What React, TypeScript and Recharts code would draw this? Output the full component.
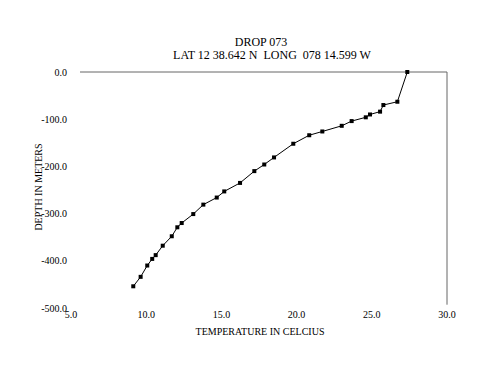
import { Line, LineChart, ReferenceLine, XAxis, YAxis } from "recharts";

// temperature (°C) vs depth (m), read top to bottom
const TEMPS = [
  27.36, 26.7, 25.77, 25.55, 24.88, 24.6, 23.66, 23.0, 21.71, 20.84, 19.78, 18.5, 17.85, 17.19,
  16.24, 15.19, 14.69, 13.8, 13.13, 12.36, 12.07, 11.7, 11.1, 10.63, 10.4, 10.07, 9.63, 9.14,
];
const DEPTHS = [
  0, -63, -70, -84, -90, -96, -104, -114, -126, -134, -152, -181, -196, -210,
  -235, -253, -266, -281, -301, -320, -329, -348, -368, -388, -396, -410, -434, -454,
];
const X_TICKS = [5, 10, 15, 20, 25, 30];
const Y_TICKS = [-500, -400, -300, -200, -100, 0];

const TITLE = "DROP 073";
const SUBTITLE = "LAT 12 38.642 N  LONG  078 14.599 W";
const X_LABEL = "TEMPERATURE IN CELCIUS";
const Y_LABEL = "DEPTH IN METERS";

const FONT = "'Liberation Serif', 'Times New Roman', serif";
const FRAME = "#666666";

const data = TEMPS.map((t, i) => ({ t, d: DEPTHS[i] }));

function SquareDot(props: any) {
  const { cx, cy } = props;
  if (cx == null || cy == null) return null;
  return <rect x={cx - 2} y={cy - 2} width={4} height={4} fill="#000" />;
}

const tickStyle = { fontFamily: FONT, fontSize: 10, fill: "#000" };

export default function App() {
  return (
    <div style={{ position: "absolute", left: 0, top: 0, width: 500, height: 386, background: "#fff", fontFamily: FONT, color: "#000" }}>
      <LineChart width={500} height={386} data={data} margin={{ top: 72, right: 53, bottom: 0, left: 0 }}>
        <XAxis
          dataKey="t"
          type="number"
          domain={[5, 30]}
          ticks={X_TICKS}
          tickFormatter={(v) => v.toFixed(1)}
          axisLine={false}
          tickLine={false}
          tickSize={0}
          tickMargin={3}
          height={78}
          tick={tickStyle}
          interval={0}
        />
        <YAxis
          dataKey="d"
          type="number"
          domain={[-500, 0]}
          ticks={Y_TICKS}
          tickFormatter={(v) => v.toFixed(1)}
          axisLine={false}
          tickLine={false}
          tickSize={0}
          tickMargin={4}
          width={71}
          tick={tickStyle}
          interval={0}
        />
        {/* plot frame: top and right edges only */}
        <ReferenceLine segment={[{ x: 5.6, y: 0 }, { x: 30, y: 0 }]} stroke={FRAME} ifOverflow="visible" />
        <ReferenceLine segment={[{ x: 30, y: 0 }, { x: 30, y: -493 }]} stroke={FRAME} ifOverflow="visible" />
        <Line
          dataKey="d"
          stroke="#000"
          strokeWidth={1}
          dot={<SquareDot />}
          activeDot={false}
          isAnimationActive={false}
        />
      </LineChart>
      <div style={{ position: "absolute", left: 261, top: 42, transform: "translate(-50%,-50%)", fontSize: 12, whiteSpace: "pre" }}>
        {TITLE}
      </div>
      <div style={{ position: "absolute", left: 272, top: 55, transform: "translate(-50%,-50%)", fontSize: 12, whiteSpace: "pre" }}>
        {SUBTITLE}
      </div>
      <div style={{ position: "absolute", left: 260, top: 331, transform: "translate(-50%,-50%)", fontSize: 10, whiteSpace: "pre" }}>
        {X_LABEL}
      </div>
      <div style={{ position: "absolute", left: 38, top: 187, transform: "translate(-50%,-50%) rotate(-90deg)", fontSize: 10, whiteSpace: "pre" }}>
        {Y_LABEL}
      </div>
    </div>
  );
}
